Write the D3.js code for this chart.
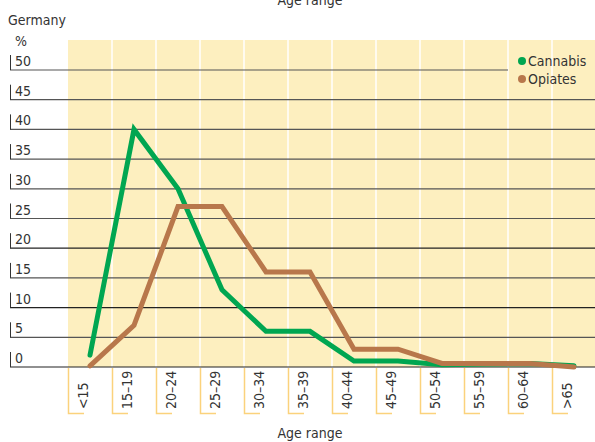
<!DOCTYPE html>
<html>
<head>
<meta charset="utf-8">
<script src="https://cdn.jsdelivr.net/npm/d3@7"></script>
<style>
  body { margin: 0; background: #fff; }
  text { font-family: "Liberation Sans Narrow", "DejaVu Sans Condensed", sans-serif; fill: #333; }
</style>
</head>
<body>
<svg id="chart" width="595" height="442"></svg>
<script>
var ageRanges = ["<15", "15\u201319", "20\u201324", "25\u201329", "30\u201334", "35\u201339",
                 "40\u201344", "45\u201349", "50\u201354", "55\u201359", "60\u201364", ">65"];
var cannabis = [2, 40, 30, 13, 6, 6, 1, 1, 0.4, 0.5, 0.6, 0.2];
var opiates = [0.2, 7, 27, 27, 16, 16, 3, 3, 0.6, 0.6, 0.6, 0];
var yTicks = [0, 5, 10, 15, 20, 25, 30, 35, 40, 45, 50];

var svg = d3.select("#chart");

var x = d3.scaleBand()
    .domain(ageRanges)
    .range([68, 596]);

var y = d3.scaleLinear()
    .domain([0, 50])
    .range([367, 70]);

// yellow plot background
svg.append("rect")
    .attr("x", 68).attr("y", 40)
    .attr("width", 528).attr("height", 327)
    .attr("fill", "#fdefbf");

// white column dividers
svg.selectAll(".col")
    .data(ageRanges.slice(1))
    .enter().append("line")
    .attr("x1", d => x(d)).attr("x2", d => x(d))
    .attr("y1", 40).attr("y2", 367)
    .attr("stroke", "#fff").attr("stroke-width", 1.5);

// gridlines + tick labels
svg.selectAll(".grid")
    .data(yTicks)
    .enter().append("line")
    .attr("x1", 10).attr("x2", d => d === 50 ? 508 : 596)
    .attr("y1", d => y(d)).attr("y2", d => y(d))
    .attr("stroke", d => d % 10 === 0 && d < 30 ? "#222" : "#555")
    .attr("stroke-width", 1.2);

svg.selectAll(".ytick")
    .data(yTicks)
    .enter().append("line")
    .attr("x1", 10.5).attr("x2", 10.5)
    .attr("y1", d => y(d) - 15).attr("y2", d => y(d))
    .attr("stroke", "#333").attr("stroke-width", 1);

svg.selectAll(".ylab")
    .data(yTicks)
    .enter().append("text")
    .attr("x", 15)
    .attr("y", d => y(d) - 4)
    .attr("font-size", 14)
    .text(d => d);

svg.append("text").attr("x", 8).attr("y", 25).attr("font-size", 14).text("Germany");
svg.append("text").attr("x", 15).attr("y", 46).attr("font-size", 14).text("%");

// category brackets + labels
var cat = svg.selectAll(".cat")
    .data(ageRanges)
    .enter().append("g");

cat.append("path")
    .attr("d", d => "M" + (x(d) + 0.5) + ",368V413.5H" + (x(d) + 16))
    .attr("fill", "none")
    .attr("stroke", "#fbd27c")
    .attr("stroke-width", 1.5);

cat.append("text")
    .attr("transform", d => "translate(" + (x(d) + 20) + ",409) rotate(-90)")
    .attr("font-size", 14)
    .text(d => d);

svg.append("text")
    .attr("x", 310).attr("y", 438)
    .attr("text-anchor", "middle")
    .attr("font-size", 14)
    .text("Age range");

svg.append("text")
    .attr("x", 310).attr("y", 5)
    .attr("text-anchor", "middle")
    .attr("font-size", 14)
    .text("Age range");

// lines
var line = d3.line()
    .x((d, i) => x(ageRanges[i]) + x.bandwidth() / 2)
    .y(d => y(d));

var series = [
    { name: "Cannabis", values: cannabis, color: "#00a651" },
    { name: "Opiates", values: opiates, color: "#b8774b" }
];

svg.selectAll(".series")
    .data(series)
    .enter().append("path")
    .attr("d", d => line(d.values))
    .attr("fill", "none")
    .attr("stroke", d => d.color)
    .attr("stroke-width", 5)
    .attr("stroke-linecap", "round");

// legend
var leg = svg.selectAll(".leg")
    .data(series)
    .enter().append("g")
    .attr("transform", (d, i) => "translate(522," + (66 + i * 18) + ")");

leg.append("circle")
    .attr("r", 4)
    .attr("cy", -5)
    .attr("fill", d => d.color);

leg.append("text")
    .attr("x", 6)
    .attr("font-size", 14)
    .text(d => d.name);
</script>
</body>
</html>
